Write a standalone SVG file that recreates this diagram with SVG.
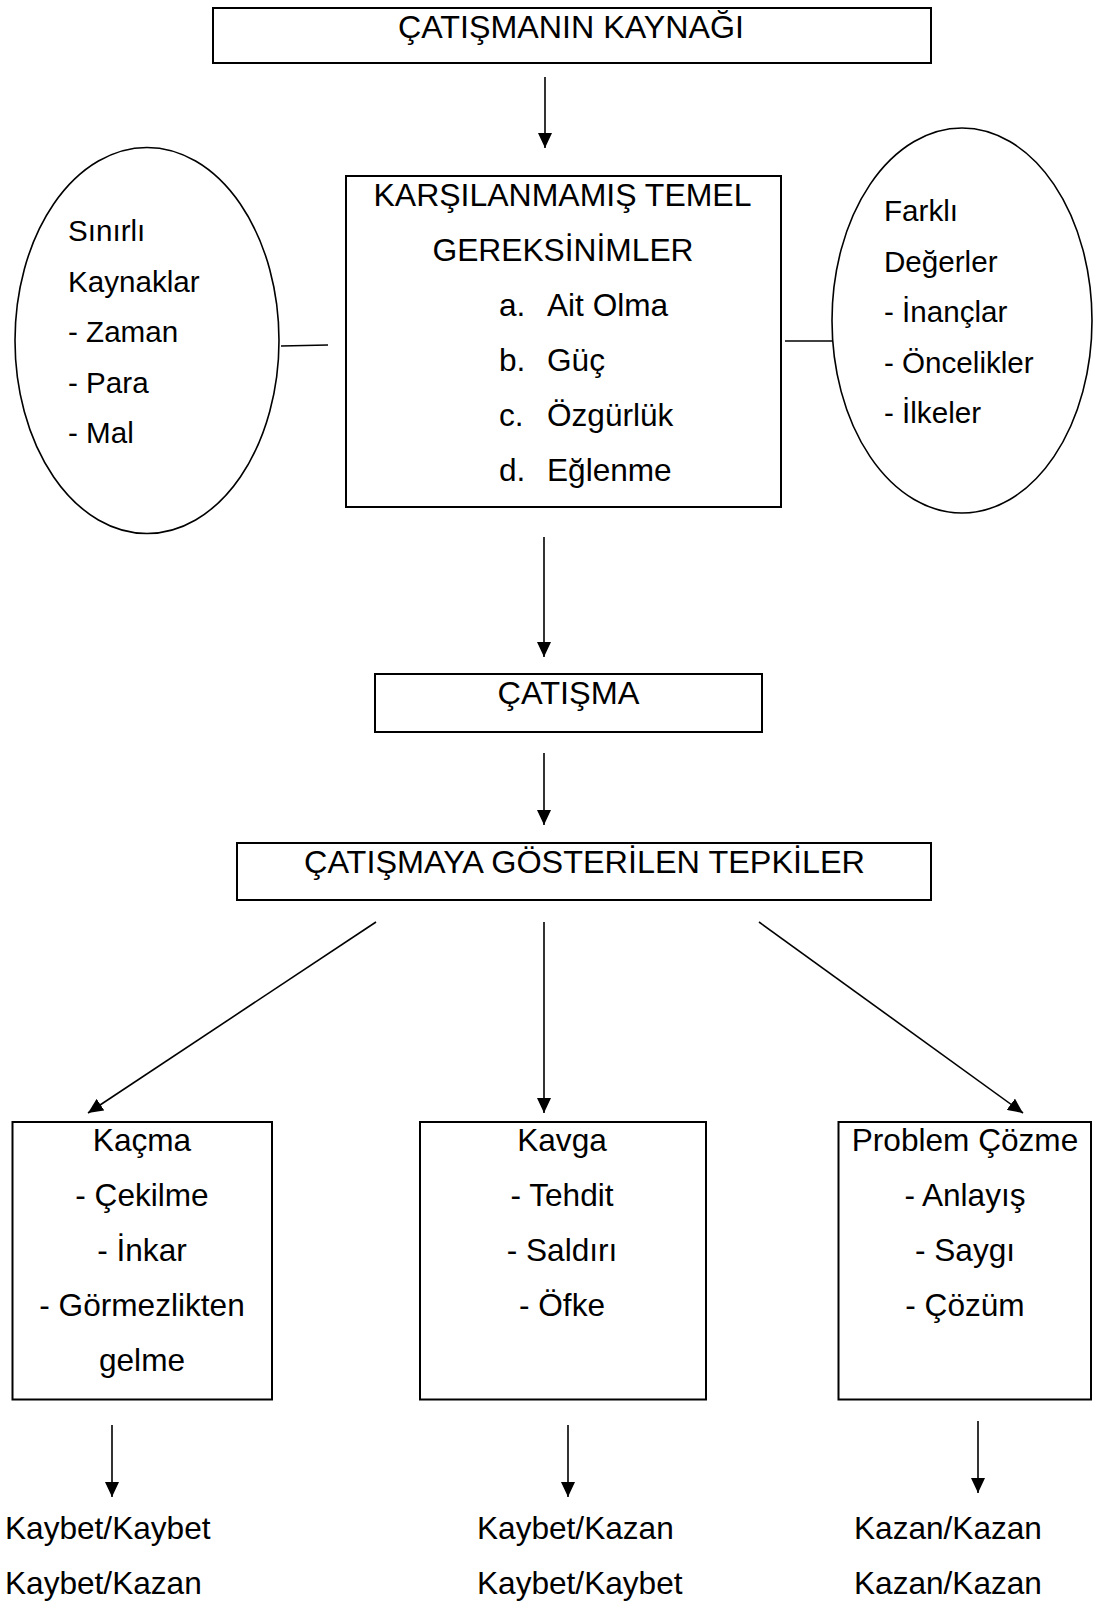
<svg xmlns="http://www.w3.org/2000/svg" width="1093" height="1603" viewBox="0 0 1093 1603">
<style>
.box{fill:#fff;stroke:#000;stroke-width:2}
.ell{fill:#fff;stroke:#000;stroke-width:1.6}
.t{font-family:"Liberation Sans",Arial,sans-serif;font-size:31.6px;fill:#000}
.e{font-family:"Liberation Sans",Arial,sans-serif;font-size:29.6px;fill:#000}
.m{text-anchor:middle}
.c{stroke:#000;stroke-width:1.6;fill:none}
.a{marker-end:url(#arr)}
</style>
<defs>
<marker id="arr" markerUnits="userSpaceOnUse" markerWidth="15" markerHeight="14" refX="15" refY="7" orient="auto">
<path d="M0,0 L15,7 L0,14 Z" fill="#000"/>
</marker>
</defs>
<rect width="1093" height="1603" fill="#fff"/>
<g id="connectors">
<line class="c a" x1="545" y1="77" x2="545" y2="148"/>
<line class="c a" x1="544" y1="537" x2="544" y2="657"/>
<line class="c a" x1="544" y1="753" x2="544" y2="825"/>
<line class="c a" x1="376" y1="922" x2="88" y2="1113"/>
<line class="c a" x1="544" y1="922" x2="544" y2="1113"/>
<line class="c a" x1="759" y1="922" x2="1023" y2="1113"/>
<line class="c a" x1="112" y1="1425" x2="112" y2="1497"/>
<line class="c a" x1="568" y1="1425" x2="568" y2="1497"/>
<line class="c a" x1="978" y1="1421" x2="978" y2="1493"/>
<line class="c" x1="281" y1="346" x2="328" y2="345"/>
<line class="c" x1="785" y1="341" x2="832" y2="341"/>
</g>
<g id="kaynak">
<rect class="box" x="213" y="8" width="718" height="55"/>
<text class="t m" x="571" y="38" textLength="346" lengthAdjust="spacingAndGlyphs">ÇATIŞMANIN KAYNAĞI</text>
</g>
<g id="gereksinimler">
<rect class="box" x="346" y="176" width="435" height="331"/>
<text class="t m" x="562.5" y="206" textLength="378" lengthAdjust="spacingAndGlyphs">KARŞILANMAMIŞ TEMEL</text>
<text class="t m" x="563" y="261" textLength="261" lengthAdjust="spacingAndGlyphs">GEREKSİNİMLER</text>
<text class="t" x="499" y="316">a.</text>
<text class="t" x="547" y="316">Ait Olma</text>
<text class="t" x="499" y="371">b.</text>
<text class="t" x="547" y="371">Güç</text>
<text class="t" x="499" y="426">c.</text>
<text class="t" x="547" y="426">Özgürlük</text>
<text class="t" x="499" y="481">d.</text>
<text class="t" x="547" y="481">Eğlenme</text>
</g>
<g id="sinirli">
<ellipse class="ell" cx="147" cy="340.5" rx="132" ry="193"/>
<text class="e" x="68" y="241">Sınırlı</text>
<text class="e" x="68" y="291.5">Kaynaklar</text>
<text class="e" x="68" y="342">- Zaman</text>
<text class="e" x="68" y="392.5">- Para</text>
<text class="e" x="68" y="443">- Mal</text>
</g>
<g id="farkli">
<ellipse class="ell" cx="962" cy="320.5" rx="130" ry="192.5"/>
<text class="e" x="884" y="221">Farklı</text>
<text class="e" x="884" y="271.5">Değerler</text>
<text class="e" x="884" y="322">- İnançlar</text>
<text class="e" x="884" y="372.5">- Öncelikler</text>
<text class="e" x="884" y="423">- İlkeler</text>
</g>
<g id="catisma">
<rect class="box" x="375" y="674" width="387" height="58"/>
<text class="t m" x="568.5" y="704" textLength="142" lengthAdjust="spacingAndGlyphs">ÇATIŞMA</text>
</g>
<g id="tepkiler">
<rect class="box" x="237" y="843" width="694" height="57"/>
<text class="t m" x="584.5" y="873" textLength="561" lengthAdjust="spacingAndGlyphs">ÇATIŞMAYA GÖSTERİLEN TEPKİLER</text>
</g>
<g id="kacma">
<rect class="box" x="12.5" y="1122" width="259.5" height="277.5"/>
<text class="t m" x="142" y="1150.5">Kaçma</text>
<text class="t m" x="142" y="1205.5">- Çekilme</text>
<text class="t m" x="142" y="1260.5">- İnkar</text>
<text class="t m" x="142" y="1315.5">- Görmezlikten</text>
<text class="t m" x="142" y="1370.5">gelme</text>
</g>
<g id="kavga">
<rect class="box" x="420" y="1122" width="286" height="277.5"/>
<text class="t m" x="562" y="1150.5">Kavga</text>
<text class="t m" x="562" y="1205.5">- Tehdit</text>
<text class="t m" x="562" y="1260.5">- Saldırı</text>
<text class="t m" x="562" y="1315.5">- Öfke</text>
</g>
<g id="problem">
<rect class="box" x="838.5" y="1122" width="252.5" height="277.5"/>
<text class="t m" x="965" y="1150.5">Problem Çözme</text>
<text class="t m" x="965" y="1205.5">- Anlayış</text>
<text class="t m" x="965" y="1260.5">- Saygı</text>
<text class="t m" x="965" y="1315.5">- Çözüm</text>
</g>
<g id="sonuc-kacma">
<text class="t" x="5" y="1538.5">Kaybet/Kaybet</text>
<text class="t" x="5" y="1593.5">Kaybet/Kazan</text>
</g>
<g id="sonuc-kavga">
<text class="t" x="477" y="1538.5">Kaybet/Kazan</text>
<text class="t" x="477" y="1593.5">Kaybet/Kaybet</text>
</g>
<g id="sonuc-problem">
<text class="t" x="854" y="1538.5">Kazan/Kazan</text>
<text class="t" x="854" y="1593.5">Kazan/Kazan</text>
</g>
</svg>
